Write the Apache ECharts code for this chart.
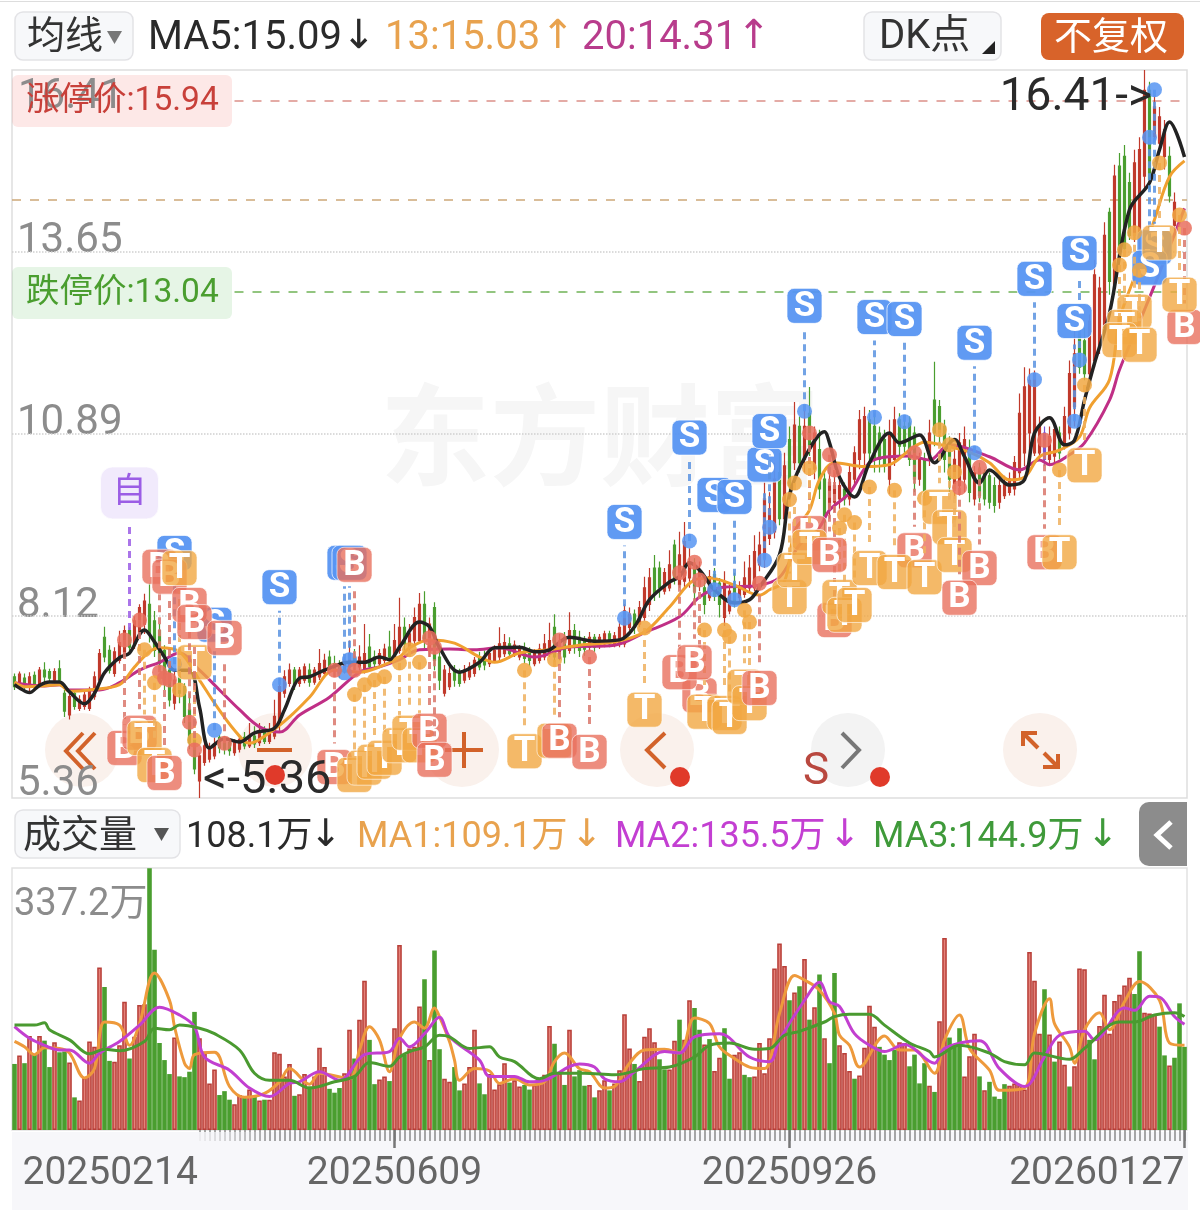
<!DOCTYPE html>
<html><head><meta charset="utf-8">
<style>html,body{margin:0;padding:0;background:#fff}#c{width:1200px;height:1210px}</style>
<script src="https://cdn.jsdelivr.net/npm/echarts@6/dist/echarts.min.js"></script>
</head><body><div id="c"></div>
<script>
// trading days
const holidays=['2025-04-04','2025-05-01','2025-05-02','2025-05-05','2025-06-02','2025-10-01','2025-10-02','2025-10-03','2025-10-06','2025-10-07','2025-10-08','2026-01-01','2026-01-02'];
const firstDay='2025-02-14', lastDay='2026-01-27';
const tickIndex=[0,76,155,234];
const priceTicks=[5.36,8.12,10.89,13.65];
const priceTop=16.41;
const volMax=337.2;
// candle rows: open, close, low, high
const klineA=[[7.20,7.05,7.00,7.25],[7.10,7.24,7.05,7.28],[7.18,7.06,6.98,7.25],[7.05,7.20,6.95,7.27],[7.22,7.08,7.00,7.28],[7.10,7.30,7.05,7.35],[7.30,7.20,7.12,7.42],[7.28,7.18,7.10,7.32],[7.15,7.28,7.10,7.33],[7.32,7.15,7.08,7.45],
[6.95,6.68,6.59,7.00],[6.62,6.90,6.55,6.95],[6.95,6.75,6.70,7.00],[6.72,6.85,6.68,6.92],[6.75,6.92,6.70,6.98],[6.72,7.00,6.68,7.05],[6.90,7.20,6.85,7.28],[7.15,7.55,7.10,7.62],[7.80,7.50,7.42,7.96],[7.60,7.30,7.25,7.68],
[7.25,7.58,7.20,7.65],[7.45,7.72,7.40,7.90],[7.55,7.90,7.50,7.98],[7.90,7.65,7.58,7.95],[7.70,8.05,7.62,8.12],[7.85,8.25,7.80,8.30],[8.00,8.35,7.85,8.46],[8.30,7.85,7.72,8.62],[8.05,7.60,7.50,8.20],[7.90,7.40,7.30,8.00],
[7.60,7.10,7.00,7.68],[7.30,6.85,6.75,7.40],[6.80,7.15,6.70,7.30],[7.20,6.95,6.80,7.30],[7.05,6.60,6.50,7.10],[6.70,6.20,6.10,6.95],[6.25,5.80,5.72,6.35],[5.62,6.00,5.36,6.05],[5.90,6.15,5.85,6.22],[5.95,6.10,5.90,6.20]];
const klineB=[[6.00,6.18,5.95,6.28],[6.28,6.12,6.04,6.32],[6.25,6.10,6.02,6.30],[6.20,6.08,6.00,6.27],[6.05,6.20,6.00,6.25],[6.10,6.25,6.05,6.30],[6.28,6.15,6.10,6.36],[6.15,6.30,6.12,6.50],[6.30,6.18,6.12,6.45],[6.20,6.35,6.15,6.50],
[6.38,6.22,6.18,6.45],[6.22,6.40,6.18,6.50],[6.30,6.60,6.25,6.85],[6.50,7.05,6.38,7.18],[6.95,7.20,6.88,7.30],[7.10,7.30,7.05,7.40],[7.30,7.08,7.00,7.35],[7.10,7.30,7.05,7.35],[7.15,7.35,7.10,7.40],[7.30,7.12,7.05,7.40],
[7.12,7.30,7.08,7.35],[7.20,7.40,7.15,7.62],[7.25,7.45,7.20,7.55],[7.50,7.30,7.25,7.60],[7.40,7.30,7.20,7.52],[7.35,7.25,7.18,7.45],[7.30,7.45,7.25,7.50],[7.35,7.55,7.30,7.75],[7.50,7.38,7.30,7.62],[7.35,7.50,7.30,7.68],
[7.30,7.55,7.25,8.00],[7.65,7.35,7.28,7.85],[7.50,7.40,7.35,7.60],[7.40,7.55,7.35,7.62],[7.45,7.62,7.40,7.70],[7.65,7.50,7.45,7.90],[7.50,7.75,7.45,8.00],[7.60,7.95,7.55,8.40]];
const klineC=[[7.95,7.70,7.60,8.10],[7.65,7.85,7.60,8.00],[7.75,8.10,7.70,8.25],[7.75,8.30,7.70,8.47],[8.30,7.75,7.60,8.50],[7.60,8.00,7.50,8.10],[8.25,7.45,7.30,8.33],[7.50,7.15,7.00,7.60],[6.95,7.30,6.90,7.38],[7.05,7.25,7.00,7.35],
[7.30,7.15,7.05,7.38],[7.25,7.10,7.05,7.32],[7.15,7.30,7.10,7.38],[7.20,7.35,7.15,7.42],[7.25,7.45,7.20,7.50],[7.50,7.35,7.30,7.58],[7.50,7.38,7.30,7.60],[7.40,7.55,7.35,7.62],[7.45,7.60,7.42,7.68],[7.50,7.70,7.45,7.95],
[7.55,7.72,7.50,7.85],[7.70,7.55,7.48,7.80],[7.55,7.68,7.50,7.75],[7.50,7.62,7.45,7.68],[7.62,7.48,7.40,7.72],[7.55,7.45,7.36,7.65],[7.40,7.55,7.36,7.62],[7.45,7.62,7.40,7.70],[7.50,7.70,7.45,7.85],[7.55,7.75,7.50,8.02],
[7.95,7.50,7.42,8.15],[7.50,7.72,7.45,7.85],[7.80,7.50,7.40,7.88],[7.60,7.90,7.55,8.18],[7.90,7.65,7.55,8.00],[7.80,7.60,7.50,7.90],[7.75,7.62,7.52,7.82],[7.65,7.80,7.60,7.88],[7.80,7.65,7.58,7.85],[7.68,7.80,7.62,7.85]];
const klineD=[[7.70,7.85,7.65,7.90],[7.85,7.70,7.65,7.90],[7.70,7.82,7.65,7.88],[7.70,7.95,7.65,8.05],[7.70,8.20,7.65,8.30],[7.95,8.15,7.90,8.25],[8.15,7.95,7.85,8.22],[8.00,8.25,7.95,8.35],[8.10,8.55,8.05,8.72],[8.30,8.70,8.20,8.85],
[8.85,8.45,8.35,9.05],[8.85,8.55,8.40,8.95],[8.50,8.78,8.45,8.85],[8.55,8.90,8.50,9.12],[9.20,8.70,8.60,9.28],[8.60,9.05,8.55,9.40],[8.65,9.25,8.55,9.55],[8.70,8.95,8.55,9.15],[8.85,8.50,8.35,9.00],[8.60,8.80,8.50,8.95],
[8.55,8.30,8.15,8.70],[8.40,8.72,8.35,8.82],[8.75,8.42,8.35,8.85],[8.62,8.30,8.10,8.70],[8.10,8.65,7.97,8.80],[8.20,8.50,8.15,8.60],[8.60,8.35,8.25,8.78],[8.40,8.55,8.35,8.65],[8.45,8.70,8.40,8.95],[8.55,8.85,8.50,9.05],
[8.55,9.10,8.50,9.35],[8.90,9.20,8.80,9.40],[9.00,9.90,8.85,10.15],[9.30,9.75,9.20,10.00],[9.40,10.20,9.30,10.45],[10.30,9.60,9.50,10.60],[9.60,10.40,9.50,10.60],[10.80,10.10,9.95,11.00]];
const klineE=[[10.45,11.02,10.34,11.37],[11.00,10.45,10.30,11.15],[10.50,11.00,10.30,11.25],[11.20,10.70,10.55,11.60],[10.35,10.90,10.20,11.00],[10.65,10.05,9.90,10.95],[10.20,9.55,9.35,10.30],[9.75,10.15,9.60,10.30],[9.85,10.10,9.70,10.30],[9.90,10.10,9.75,10.20],
[10.05,9.90,9.80,10.15],[9.90,10.30,9.80,10.40],[10.20,10.60,10.10,10.70],[10.50,11.10,10.35,11.25],[10.60,11.15,10.40,11.30],[11.10,10.60,10.45,11.25],[11.00,10.50,10.30,11.20],[10.90,10.50,10.30,11.00],[10.80,10.40,10.30,10.95],[10.20,10.90,9.97,11.10],
[10.50,11.10,10.40,11.30],[11.10,10.70,10.50,11.20],[11.00,10.70,10.60,11.10],[11.05,10.50,10.40,11.15],[10.90,10.20,10.00,11.00],[10.20,10.50,10.10,10.60],[10.50,10.00,9.90,10.60],[10.50,10.90,10.40,11.10],[11.40,10.90,10.70,11.98],[11.30,10.90,10.70,11.40],
[11.00,10.50,10.30,11.10],[10.70,10.20,10.00,10.85],[10.05,10.50,9.90,10.70],[10.10,10.75,9.95,10.90],[10.20,10.80,10.00,11.00],[10.60,10.00,9.85,10.80],[9.90,10.30,9.80,10.40],[10.35,9.95,9.85,10.45],[10.30,9.90,9.80,10.35],[10.25,9.85,9.75,10.30]];
const klineF=[[10.10,9.80,9.69,10.23],[9.85,10.10,9.75,10.20],[9.95,10.15,9.90,10.25],[10.00,10.20,9.95,10.30],[10.05,10.45,9.95,10.55],[10.30,11.20,10.20,11.50],[10.60,11.60,10.40,11.90],[10.90,11.70,10.50,11.88],[10.60,11.80,10.55,11.85],[10.60,11.00,10.50,11.15],
[10.90,10.50,10.40,11.00],[10.50,10.85,10.40,11.00],[10.55,10.95,10.45,11.05],[10.90,10.60,10.50,11.00],[10.70,11.15,10.65,11.30],[10.90,11.80,10.80,12.00],[11.30,12.10,11.00,12.50],[12.40,11.90,11.80,12.55],[12.30,11.80,11.70,12.50],[11.80,12.60,11.70,12.70],
[12.00,13.30,11.90,13.53],[12.20,13.10,12.10,13.27],[12.50,13.90,12.40,14.10],[14.25,13.20,13.00,14.32],[13.10,14.80,13.00,14.97],[14.95,13.60,13.60,15.15],[15.10,13.70,13.68,15.27],[14.70,13.90,13.83,14.85],[13.90,15.00,13.80,15.20],[13.90,15.20,13.68,15.39],
[14.80,16.10,14.59,16.41],[16.10,14.75,14.59,16.23],[15.40,15.85,15.35,16.03],[15.30,15.70,15.20,15.85],[15.10,15.50,14.90,15.65],[15.10,14.50,14.40,15.25],[14.05,14.40,13.95,14.55]];
const purpleBars=[206];
// volume in 10k, and rising/falling flags
const volA=[85,96,86,121,97,121,115,81,113,100,101,87,42,38,67,114,107,209,184,89,88,109,165,92,120,161,162,337,232,112,90,72,119,69,68,75,152,118,100,60,78,45,50,39,33,45,42,52,43,38,39,39,100,98,69,85,44,46,72,56,69,106,81,53,48,54,73,129,92,142,192,116,59,65,69,63,131,238];
const volB=[97,105,107,159,194,90,231,104,66,62,81,51,60,81,129,60,46,72,52,59,86,61,64,56,58,52,58,61,71,134,111,73,58,129,69,77,57,58,42,51,64,51,60,77,149,105,85,63,120,131,113,91,78,78,115,142,116,167,157,129,110,117,76,93,131,66,97,100,71,68,69,112,73,118,208,240,211,167,177,185];
const volC=[220,142,158,200,118,86,202,109,99,76,66,70,106,160,133,107,97,90,103,113,112,82,97,60,86,57,49,140,247,119,107,131,69,95,124,69,51,62,43,40,59,57,60,58,52,229,192,124,181,123,88,114,84,56,82,208,207,116,91,134,174,124,166,174,186,196,175,230,151,150,149,133,96,83,93,163,107];
const volFlagsA='grgrgrggrg'+'grgrrrrrgg'+'rrrgrrrggg'+'ggrggggrrr'+'rgggrrgrgr'+'grrrrrgrrg'+'rrrgggrrgr'+'rggrrgrr';
const volFlagsB='grrrgrggrr'+'ggrrrggrrr'+'rgrrggrrrr'+'grgrgggrgr'+'rgrrrrgrrr'+'rggrrgrrgg'+'rgrrggrrgg'+'rrrrrrrgrg';
const volFlagsC='rgrgrggrrr'+'grrrrggggr'+'rggggrgrrg'+'ggrrrgrggg'+'grrrrrrrgr'+'grrgrrrggr'+'rrrrrrggrr'+'rggrggg';
// moving averages as read at their turning points: [bar index, value]
const ma5Line=[[0,7.08],[1,7.03],[3,6.96],[5,7.07],[7,7.12],[9,7.12],[11,6.97],[14,6.79],[16,6.95],[18,7.26],[21,7.49],[23,7.56],[26,7.91],[28,7.73],[30,7.50],[32,7.30],[35,7.30],[37,6.74],[39,6.12],[42,6.26],[45,6.21],[48,6.35],[52,6.42],[54,6.70],[57,7.18],[59,7.20],[62,7.30],[67,7.42],[70,7.42],[73,7.50],[75,7.46],[77,7.65],[81,8.03],[83,7.96],[85,7.64],[89,7.27],[93,7.42],[96,7.64],[101,7.65],[104,7.58],[107,7.61],[111,7.80],[116,7.74],[121,7.76],[124,7.96],[127,8.37],[131,8.64],[133,8.72],[135,8.93],[137,8.82],[140,8.52],[144,8.32],[147,8.37],[149,8.56],[153,9.05],[155,9.96],[158,10.52],[162,10.92],[163,10.75],[165,10.23],[168,9.93],[171,10.45],[175,10.90],[177,10.75],[181,10.87],[184,10.45],[188,10.80],[190,10.54],[193,10.14],[195,10.34],[199,10.11],[202,10.19],[204,10.90],[207,11.13],[210,10.72],[212,10.79],[214,11.40],[216,11.96],[219,12.72],[223,14.29],[227,14.70],[229,15.20],[231,15.62],[234,15.09]];
const ma13Line=[[0,7.12],[2,7.05],[5,7.06],[9,7.08],[11,6.98],[15,7.00],[21,7.08],[24,7.35],[27,7.58],[29,7.64],[33,7.58],[37,7.15],[40,6.80],[44,6.39],[47,6.19],[51,6.35],[55,6.59],[59,6.89],[64,7.30],[69,7.27],[73,7.35],[77,7.50],[79,7.64],[83,7.76],[88,7.71],[93,7.50],[96,7.42],[101,7.56],[107,7.61],[113,7.68],[120,7.73],[126,7.88],[131,8.26],[136,8.67],[139,8.70],[144,8.59],[149,8.44],[151,8.52],[154,8.65],[156,9.40],[159,9.73],[161,10.19],[164,10.45],[170,10.39],[175,10.42],[179,10.64],[182,10.76],[187,10.69],[191,10.61],[195,10.45],[199,10.19],[202,10.23],[205,10.54],[209,10.64],[213,10.84],[215,11.28],[219,11.71],[221,12.62],[224,13.27],[228,14.14],[231,14.79],[234,15.03]];
const ma20Line=[[0,7.11],[6,7.06],[9,7.08],[11,7.00],[17,7.00],[21,7.11],[25,7.30],[29,7.42],[33,7.56],[37,7.30],[41,7.00],[45,6.70],[49,6.44],[53,6.36],[57,6.62],[63,6.89],[69,7.27],[73,7.35],[77,7.46],[81,7.61],[87,7.62],[92,7.61],[97,7.64],[104,7.50],[111,7.65],[120,7.68],[126,7.87],[133,8.11],[137,8.41],[141,8.55],[149,8.59],[153,8.71],[157,9.20],[161,9.47],[163,9.73],[167,9.99],[171,10.45],[175,10.54],[179,10.55],[183,10.49],[187,10.72],[195,10.54],[201,10.34],[205,10.49],[207,10.42],[211,10.57],[214,10.75],[219,11.40],[221,11.86],[226,12.77],[229,13.33],[234,14.31]];
const volMa1=[[0,114],[2,107],[4,97],[6,106],[9,105],[11,99],[14,67],[16,79],[18,139],[21,135],[23,109],[25,137],[28,202],[31,167],[32,133],[34,86],[35,79],[36,97],[40,100],[43,56],[46,42],[50,47],[53,62],[55,79],[59,59],[61,73],[67,66],[69,103],[71,133],[73,116],[75,75],[77,118],[80,139],[82,131],[84,157],[85,146],[87,114],[88,90],[89,64],[92,79],[95,76],[97,60],[100,66],[103,58],[106,62],[108,88],[110,99],[113,79],[115,75],[118,54],[120,56],[123,86],[126,103],[130,104],[133,99],[136,144],[139,137],[141,107],[144,92],[147,81],[150,79],[153,150],[156,199],[158,193],[161,180],[164,150],[165,122],[167,109],[169,81],[174,121],[177,103],[180,103],[184,73],[186,116],[189,148],[191,105],[195,77],[197,51],[202,54],[204,124],[207,169],[208,137],[211,107],[212,86],[214,129],[217,151],[219,129],[222,165],[225,191],[229,167],[231,112],[234,109]];
const volMa2=[[0,133],[3,118],[6,109],[9,103],[11,103],[15,86],[17,99],[21,114],[25,135],[29,158],[33,148],[36,133],[38,94],[43,77],[47,54],[51,43],[55,60],[57,62],[61,75],[65,64],[70,97],[75,101],[77,118],[79,107],[82,124],[85,145],[87,120],[93,90],[95,69],[100,69],[103,62],[106,64],[113,85],[116,81],[118,66],[121,62],[124,75],[130,101],[133,99],[136,120],[141,124],[147,94],[151,88],[153,116],[158,167],[161,190],[163,165],[165,159],[168,124],[171,109],[174,101],[178,110],[184,86],[186,105],[193,115],[197,79],[202,56],[206,94],[209,122],[214,127],[216,116],[222,157],[224,154],[227,172],[229,171],[232,146],[234,136]];
const volMa3=[[0,135],[4,135],[6,138],[7,129],[11,116],[15,98],[18,104],[21,102],[26,114],[28,131],[31,129],[33,135],[37,131],[40,124],[45,103],[48,73],[51,64],[55,64],[59,54],[64,62],[68,69],[71,87],[75,82],[77,94],[79,101],[82,107],[85,122],[87,120],[91,105],[95,107],[97,94],[100,88],[105,66],[108,73],[114,73],[120,71],[126,79],[131,81],[136,94],[139,109],[143,112],[148,104],[151,105],[154,122],[157,127],[162,139],[164,146],[167,149],[171,149],[174,135],[179,112],[183,101],[184,94],[189,109],[195,99],[198,88],[202,84],[204,99],[211,91],[214,105],[221,139],[224,139],[228,148],[232,151],[234,146]];
// signal marks: bar index, price at the dot, price level of the flag
const sMarks=[[32,7.39,9.08],[40,6.39,7.99],[53,7.08,8.56],[66,7.26,8.93],[67,7.46,8.93],[122,8.09,9.55],[135,9.26,10.83],[140,8.52,9.96],[144,8.37,9.93],[150,8.97,10.42],[151,9.47,10.93],[158,11.23,12.83],[172,11.14,12.66],[178,11.07,12.63],[192,10.60,12.27],[204,11.71,13.24],[213,12.01,13.63],[212,11.08,12.60],[228,16.11,13.72],[227,15.39,13.41]];
const tMarks=[[26,7.61,6.27],[28,7.11,5.86],[33,7.00,8.85],[36,6.24,7.42],[68,6.93,5.71],[70,7.08,5.82],[72,7.15,5.91],[74,7.20,5.97],[77,7.41,6.16],[79,7.61,6.35],[81,7.42,6.16],[102,7.30,6.07],[108,7.46,6.23],[126,7.94,6.70],[138,7.91,6.67],[142,7.91,6.65],[143,7.81,6.59],[146,8.21,7.05],[147,8.03,6.80],[155,9.89,8.41],[156,10.14,8.82],[159,10.37,9.17],[165,9.46,8.41],[166,9.66,8.14],[168,9.54,8.29],[171,10.08,8.85],[176,10.03,8.79],[182,9.91,8.71],[185,10.95,9.78],[187,10.72,9.47],[188,10.31,9.05],[209,10.34,9.09],[214,11.63,10.41],[229,15.00,13.79],[233,14.21,13.00],[224,13.94,12.74],[222,13.68,12.51],[221,13.45,12.31],[225,13.37,12.24]];
const bMarksTop=[[30,7.18,5.74],[35,6.51,8.29],[36,6.09,8.03],[42,6.19,7.79],[68,7.30,8.90],[83,7.79,6.38],[84,7.65,5.94],[109,7.76,6.23],[115,7.50,6.06],[133,8.78,7.27],[136,8.94,7.42],[149,8.62,7.03],[163,10.57,9.05],[193,10.38,8.85],[189,10.07,8.40]];
const bMarksLow=[[22,7.76,6.12],[25,8.06,6.35],[29,7.27,8.87],[31,7.15,8.72],[64,7.30,5.83],[137,8.67,6.92],[159,10.90,9.38],[164,10.34,8.06],[180,10.60,9.12],[206,10.79,9.09],[234,14.01,12.51]];
const noteMark=[[23,7.91,9.99]];
const limitUp=15.94, limitDown=13.04, midLine=14.44;

// ------------ build
const dates=[];
for(let d=new Date(firstDay+'T00:00:00Z');d<=new Date(lastDay+'T00:00:00Z');d=new Date(+d+864e5)){
  const s=d.toISOString().slice(0,10),w=d.getUTCDay();
  if(w===0||w===6||holidays.includes(s))continue;
  dates.push(s.replace(/-/g,''));
}
const rows=[...klineA,...klineB,...klineC,...klineD,...klineE,...klineF];
const vols=[...volA,...volB,...volC];
const flags=volFlagsA+volFlagsB+volFlagsC;
const RED='#c0392b',GREEN='#4a9e2f',BLUE='#5795f2',ORANGE='#f1a742',BRED='#e9705e';
const UI='Roboto,"Noto Sans CJK SC",sans-serif';
const candleData=rows.map((r,i)=>purpleBars.includes(i)?{value:r,itemStyle:{color:'#7a55d6',color0:'#7a55d6',borderColor:'#7a55d6',borderColor0:'#7a55d6'}}:r);
const volData=vols.map((v,i)=>flags[i]==='r'?{value:v,itemStyle:{color:'#e5827a',borderColor:'#b83f38',borderWidth:1.5}}:{value:v,itemStyle:{color:GREEN}});
function lineS(name,data,color,x,y,z,w){return{name,type:'line',data,xAxisIndex:x,yAxisIndex:y,smooth:0.35,symbol:'none',z:z,lineStyle:{color,width:w||3},silent:true,animation:false}}
function markSeries(name,data,cfg){return{name,type:'custom',xAxisIndex:0,yAxisIndex:0,z:cfg.z,silent:true,clip:false,animation:false,data,
 encode:{x:0,y:[1,2]},
 renderItem(p,api){
  const dot=api.coord([api.value(0),api.value(1)]),tag=api.coord([api.value(0),api.value(2)]);
  const up=tag[1]<dot[1],w=cfg.w||35,h=cfg.h||35,gap=up?h/2+6:-(h/2+6);
  const kids=[{type:'line',shape:{x1:dot[0],y1:dot[1],x2:dot[0],y2:tag[1]+gap},style:{stroke:cfg.line,lineWidth:3,lineDash:[7,5],opacity:.85}}];
  if(!cfg.noDot)kids.push({type:'circle',shape:{cx:dot[0],cy:dot[1],r:7.5},style:{fill:cfg.fill,opacity:.85}});
  kids.push({type:'rect',shape:{x:tag[0]-w/2,y:tag[1]-h/2,width:w,height:h,r:cfg.r||7},style:{fill:cfg.fill,stroke:'rgba(255,255,255,.75)',lineWidth:1,opacity:cfg.op||.8}});
  kids.push({type:'text',style:{text:cfg.text,x:tag[0],y:tag[1]+1,align:'center',verticalAlign:'middle',fill:cfg.tc||'#fff',font:(cfg.fw||'bold')+' '+(cfg.fs||35)+'px '+UI}});
  return{type:'group',children:kids};
 }}}
function T(x,y,text,fill,size,z,extra){return {type:'text',z:z===undefined?60:z,x,y,style:Object.assign({text,fill,font:size+'px '+UI,verticalAlign:'middle'},extra||{})}}
function R(x,y,w,h,fill,stroke,r,z){return{type:'rect',z:z===undefined?55:z,shape:{x,y,width:w,height:h,r:r||0},style:{fill,stroke:stroke||null,lineWidth:stroke?1.5:0}}}
function P(pts,stroke,z,lw){return{type:'polyline',z:z===undefined?1.5:z,shape:{points:pts},style:{stroke,lineWidth:lw||4,fill:null}}}
function tri(pts,fill,z){return{type:'polygon',z:z===undefined?60:z,shape:{points:pts},style:{fill}}}
const gr=[];
// frames / backgrounds
gr.push(R(0,1,1200,1,'#dddddd',null,0,0));
gr.push(R(12,1132,1176,78,'#f7f7fa',null,0,0));
gr.push(R(12,70,1175,728,'rgba(0,0,0,0)','#dedede',0,0));
gr.push(R(12,868,1175,262,'rgba(0,0,0,0)','#e2e2e2',0,0));
gr.push(T(380,435,'东方财富','#f6f6f6',110,0,{font:'bold 110px "Noto Sans CJK SC"'}));
gr.push({type:'rect',z:90,shape:{x:190,y:1132,width:80,height:14},style:{fill:{type:'linear',x:0,y:0,x2:1,y2:0,colorStops:[{offset:0,color:'rgba(247,247,250,1)'},{offset:1,color:'rgba(247,247,250,0)'}]}}});
// nav buttons
[[82,750,'#faf1ec'],[275,750,'#faf1ec'],[462,750,'#faf1ec'],[657,750,'#faf1ec'],[848,750,'#f3f3f3'],[1040,750,'#faf1ec']].forEach(b=>gr.push({type:'circle',z:1,shape:{cx:b[0],cy:b[1],r:37},style:{fill:b[2]}}));
const NAV='#d2622a';
gr.push(P([[95,733],[78,751],[95,769]],NAV),P([[83,733],[66,751],[83,769]],NAV));
gr.push(P([[257,750],[292,750]],NAV));
gr.push(P([[445,750],[483,750]],NAV),P([[464,732],[464,768]],NAV));
gr.push(P([[665,733],[647,750],[665,768]],NAV));
gr.push(P([[842,733],[859,750],[842,768]],'#777'));
gr.push(P([[1023,746],[1023,733],[1037,733]],NAV),P([[1023,733],[1038,748]],NAV),P([[1058,754],[1058,767],[1043,767]],NAV),P([[1058,767],[1044,753]],NAV));
[[275,775],[680,777],[880,777]].forEach(d=>gr.push({type:'circle',z:40,shape:{cx:d[0],cy:d[1],r:10},style:{fill:'#e03a2a'}}));
gr.push(T(803,773,'S','#b9483f',44,40));
// header
gr.push(R(15,12,118,48,'#f7f8fa','#e3e3e6',8));
gr.push(T(27,38,'均线','#333',38));
gr.push(tri([[107,31],[122,31],[114.5,44]],'#777'));
gr.push(T(148,39,'MA5:15.09','#2a2a2a',40));
gr.push(T(342,38,'↓','#2a2a2a',40,60,{font:'40px "DejaVu Sans"'}));
gr.push(T(385,39,'13:15.03','#e8a24e',40));
gr.push(T(541,38,'↑','#e8a24e',40,60,{font:'40px "DejaVu Sans"'}));
gr.push(T(582,39,'20:14.31','#b83c8c',40));
gr.push(T(737,38,'↑','#b83c8c',40,60,{font:'40px "DejaVu Sans"'}));
gr.push(R(864,12,137,48,'#f7f8fa','#e3e3e6',8));
gr.push(T(879,38,'DK点','#333',40));
gr.push(tri([[982,54],[995,54],[995,41]],'#222'));
gr.push(R(1041,13,143,47,'#d8632a',null,8));
gr.push(T(1054,39,'不复权','#fff',38));
// limit boxes
gr.push(R(12,75,220,52,'rgba(245,120,110,.17)',null,6,4));
gr.push(T(18,97,String(priceTop),'#8c8c8c',42,5));
gr.push(T(26,102,'涨停价:15.94','#c8403a',33.5,60));
gr.push(R(12,267,220,52,'rgba(90,190,90,.15)',null,6,4));
gr.push(T(26,294,'跌停价:13.04','#4a9e2f',33.5,60));
gr.push(T(1152,98,'16.41->','#2a2a2a',46,60,{align:'right'}));
gr.push(T(203,781,'<-5.36','#2a2a2a',47,60));
// volume header
gr.push(R(15,810,165,48,'#f7f8fa','#e3e3e6',8));
gr.push(T(23,837,'成交量','#333',38));
gr.push(tri([[154,828],[169,828],[161.5,841]],'#555'));
gr.push(T(186,838,'108.1万','#2a2a2a',36));
gr.push(T(310,836,'↓','#2a2a2a',38,60,{font:'38px "DejaVu Sans"'}));
gr.push(T(357,838,'MA1:109.1万','#e8a24e',36));
gr.push(T(571,836,'↓','#e8a24e',38,60,{font:'38px "DejaVu Sans"'}));
gr.push(T(615,838,'MA2:135.5万','#c33fd2',36));
gr.push(T(829,836,'↓','#c33fd2',38,60,{font:'38px "DejaVu Sans"'}));
gr.push(T(873,838,'MA3:144.9万','#3f9a3a',36));
gr.push(T(1087,836,'↓','#3f9a3a',38,60,{font:'38px "DejaVu Sans"'}));
gr.push({type:'rect',z:60,shape:{x:1139,y:802,width:48,height:64,r:[10,0,0,10]},style:{fill:'#8c8c8c'}});
gr.push(P([[1171,822],[1157,835],[1171,848]],'#fff',61,5));
gr.push(T(14,905,volMax+'万','#8c8c8c',38,20));

const ml=(v,c,type)=>({yAxis:v,lineStyle:{color:c,type:type||[9,9],width:1.5}});
const segLine=(v,c)=>[{xAxis:44,yAxis:v,lineStyle:{color:c,type:[9,9],width:1.5}},{xAxis:234,yAxis:v}];
const option={
 animation:false,
 backgroundColor:'#fff',
 grid:[{left:12,right:13,top:70,height:728},{left:12,right:13,top:868,height:262}],
 xAxis:[
  {type:'category',gridIndex:0,data:dates,boundaryGap:true,axisLine:{show:false},axisTick:{show:false},axisLabel:{show:false},splitLine:{show:false}},
  {type:'category',gridIndex:1,z:2,data:dates,boundaryGap:true,axisLine:{show:false},splitLine:{show:false},
   axisTick:{show:true,alignWithLabel:true,length:11,lineStyle:{color:'#8a8a8a',width:1.5},customValues:dates.map((d,i)=>i).filter(i=>i>=37)},
   axisLabel:{show:true,customValues:tickIndex,margin:25,fontSize:39,fontFamily:'Roboto',color:'#666',alignMinLabel:'left',alignMaxLabel:'right',hideOverlap:false,showMinLabel:true,showMaxLabel:true,
     formatter:(v)=>v===dates[0]?'{a|'+v+'}':v,rich:{a:{padding:[0,0,0,8],fontSize:39,fontFamily:'Roboto',color:'#666'}}}},
  {type:'category',gridIndex:1,z:2,position:'bottom',data:dates,boundaryGap:true,axisLine:{show:false},splitLine:{show:false},axisLabel:{show:false},
   axisTick:{show:true,alignWithLabel:true,length:18,lineStyle:{color:'#777',width:2.5},customValues:tickIndex.slice(1)}}
 ],
 yAxis:[
  {type:'value',gridIndex:0,z:2,min:priceTicks[0],max:priceTop,position:'left',axisLine:{show:false},axisTick:{show:false},splitLine:{show:false},
   axisLabel:{inside:true,customValues:priceTicks,margin:5,fontSize:42,fontFamily:'Roboto',color:'#8c8c8c',verticalAlign:'bottom',lineHeight:20,
     formatter:v=>v===priceTicks[0]?'{m|'+v.toFixed(2)+'}':v.toFixed(2),rich:{m:{padding:[0,0,8,0],fontSize:42,fontFamily:'Roboto',color:'#8c8c8c',lineHeight:20}}}},
  {type:'value',gridIndex:1,min:0,max:volMax,position:'left',axisLine:{show:false},axisTick:{show:false},splitLine:{show:false},axisLabel:{show:false}}
 ],
 graphic:{elements:gr},
 series:[
  {name:'K',type:'candlestick',xAxisIndex:0,yAxisIndex:0,data:candleData,barWidth:3,z:5,silent:true,
   itemStyle:{color:RED,color0:GREEN,borderColor:RED,borderColor0:GREEN,borderWidth:1.2},
   markLine:{silent:true,symbol:'none',label:{show:false},animation:false,data:[
     ml(priceTicks[1],'#cfcfcf','dotted'),ml(priceTicks[2],'#cfcfcf','dotted'),ml(priceTicks[3],'#cfcfcf','dotted'),
     segLine(limitUp,'#dc9089'),segLine(limitDown,'#6fb256'),ml(midLine,'#cda878')]}},
  lineS('MA5',ma5Line,'#222222',0,0,8,3.5),
  lineS('MA13',ma13Line,'#f0a030',0,0,7),
  lineS('MA20',ma20Line,'#c02f86',0,0,6),
  markSeries('Smark',sMarks,{fill:BLUE,line:'#5b93e0',text:'S',z:9,op:.95}),
  markSeries('BmarkLow',bMarksLow,{fill:BRED,line:'#d9776b',text:'B',z:9.5}),
  markSeries('Tmark',tMarks,{fill:ORANGE,line:'#eeb05f',text:'T',z:10}),
  markSeries('Bmark',bMarksTop,{fill:BRED,line:'#d9776b',text:'B',z:11}),
  markSeries('Note',noteMark,{fill:'#f1eafc',line:'#9b5de5',text:'自',w:58,h:52,r:12,tc:'#9b5de5',fw:'normal',fs:34,noDot:true,op:1,z:12}),
  {name:'Vol',type:'bar',xAxisIndex:1,yAxisIndex:1,data:volData,barWidth:4.6,z:3,silent:true},
  lineS('VMA1',volMa1,'#ee9a3c',1,1,6),
  lineS('VMA2',volMa2,'#c23fd0',1,1,7),
  lineS('VMA3',volMa3,'#4a9a30',1,1,8),
  {name:'axis2',type:'line',xAxisIndex:2,yAxisIndex:1,data:[],silent:true}
 ]
};
const chart=echarts.init(document.getElementById('c'),null,{renderer:'canvas',width:1200,height:1210});
chart.setOption(option);
</script></body></html>
